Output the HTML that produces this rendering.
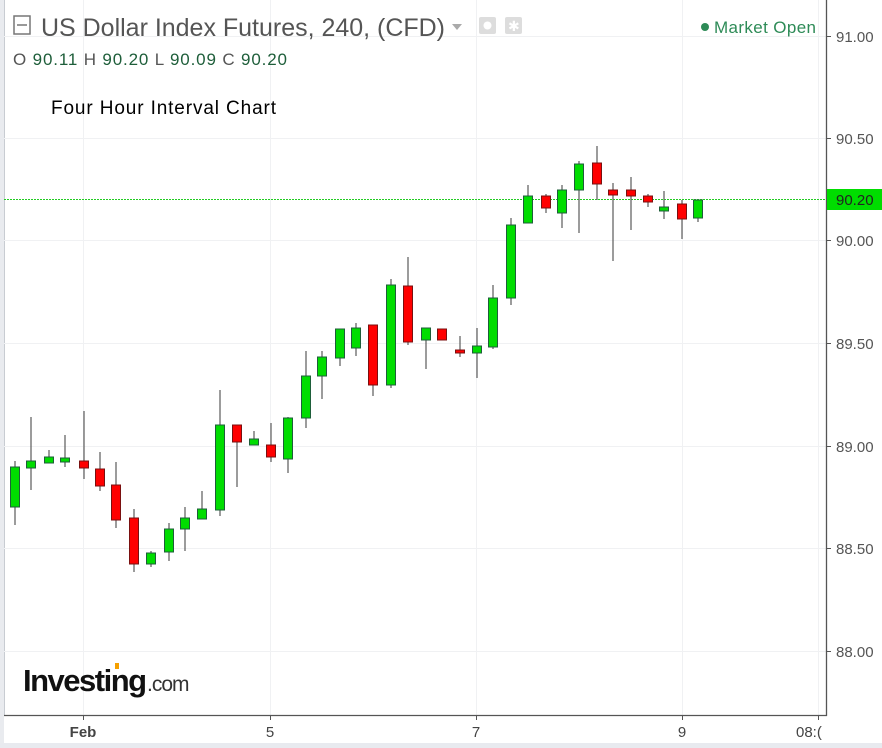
<!DOCTYPE html>
<html><head><meta charset="utf-8"><style>
html,body{margin:0;padding:0;background:#fff;width:882px;height:748px;overflow:hidden;font-family:"Liberation Sans",sans-serif}
</style></head><body>
<svg id="s" width="882" height="748" xmlns="http://www.w3.org/2000/svg" style="position:absolute;left:0;top:0">
<rect x="0" y="0" width="882" height="748" fill="#fff"/>
<rect x="0" y="743" width="882" height="5" fill="#e8eaef"/>
<rect x="0" y="0" width="4" height="743" fill="#e9ebef"/>
<line x1="4.5" y1="0" x2="4.5" y2="715" stroke="#c8ccd2"/>
<g id="grid" stroke="#f0f1f3" stroke-width="1"></g>
<line x1="4" y1="199.5" x2="826" y2="199.5" stroke="#22cc22" stroke-dasharray="2,1" stroke-width="1"/>
<g id="c"></g>
<line x1="826.5" y1="0" x2="826.5" y2="716" stroke="#555" stroke-width="1.3"/>
<line x1="4" y1="715.5" x2="827" y2="715.5" stroke="#555" stroke-width="1.3"/>
<g id="ax" font-size="15" fill="#555" font-family="Liberation Sans,sans-serif"></g>
<rect x="827" y="189" width="55" height="21" fill="#00dd00"/>
<text x="836" y="205" font-size="15" fill="#222">90.20</text>
<g font-size="15" fill="#444" text-anchor="middle">
<text x="83" y="737" font-weight="bold">Feb</text>
<text x="270" y="737">5</text>
<text x="476" y="737">7</text>
<text x="682" y="737">9</text>
</g>
<text x="796" y="737" font-size="15" fill="#444">08:(</text>
<rect x="14" y="16" width="16" height="18" fill="none" stroke="#777" stroke-width="1.5"/>
<line x1="17" y1="25" x2="27" y2="25" stroke="#777" stroke-width="1.5"/>
<text x="41" y="36" font-size="25" fill="#555" textLength="404" lengthAdjust="spacingAndGlyphs">US Dollar Index Futures, 240, (CFD)</text>
<path d="M452 24 L462 24 L457 30 Z" fill="#aaa"/>
<rect x="479" y="17" width="17" height="17" rx="2" fill="#ddd"/>
<circle cx="487.5" cy="25.5" r="4" fill="#fff"/>
<rect x="505" y="17" width="17" height="17" rx="2" fill="#ddd"/>
<text x="508" y="31" font-size="14" fill="#fff">✱</text>
<text x="13" y="65" font-size="17" fill="#1e5e3a" textLength="274" lengthAdjust="spacing"><tspan fill="#555">O</tspan> 90.11 <tspan fill="#555">H</tspan> 90.20 <tspan fill="#555">L</tspan> 90.09 <tspan fill="#555">C</tspan> 90.20</text>
<circle cx="705" cy="27" r="4" fill="#2e8b57"/>
<text x="714" y="33" font-size="17" fill="#2e8b57" textLength="102">Market Open</text>
<text x="51" y="114" font-size="19" fill="#000" textLength="225">Four Hour Interval Chart</text>
<text x="23" y="691" font-size="31" font-weight="bold" fill="#111" letter-spacing="-1.5">Investing</text>
<text x="147" y="691" font-size="21" fill="#333" letter-spacing="-1">.com</text>
<rect x="115" y="663" width="4" height="6" fill="#f5a000"/>
</svg>
<script>
var ns="http://www.w3.org/2000/svg";
function el(p,t,a){var e=document.createElementNS(ns,t);for(var k in a)e.setAttribute(k,a[k]);p.appendChild(e);return e;}
var g=document.getElementById('grid'),ax=document.getElementById('ax');
var prices=[["91.00",36],["90.50",138],["90.00",240],["89.50",343],["89.00",446],["88.50",548],["88.00",651]];
prices.forEach(function(p){el(g,'line',{x1:4,x2:826,y1:p[1]+.5,y2:p[1]+.5});
el(ax,'line',{x1:826,x2:831,y1:p[1]+.5,y2:p[1]+.5,stroke:'#555'});
var t=el(ax,'text',{x:836,y:p[1]+6});t.textContent=p[0];});
[83,270,476,682,818].forEach(function(x){el(g,'line',{x1:x+.5,x2:x+.5,y1:0,y2:715});el(ax,'line',{x1:x+.5,x2:x+.5,y1:715,y2:720,stroke:'#555'});});
var C=[[15,461,525,467,507,1],[31,417,490,461,468,1],[49,450,463,457,463,1],[65,435,467,458,462,1],[84,411,479,461,468,0],[100,452,491,469,486,0],[116,462,528,485,520,0],[134,509,572,518,564,0],[151,551,567,553,564,1],[169,523,561,529,552,1],[185,507,551,518,529,1],[202,491,519,509,519,1],[220,390,516,425,510,1],[237,425,487,425,442,0],[254,431,445,439,445,1],[271,423,462,445,457,0],[288,417,473,418,459,1],[306,351,428,376,418,1],[322,351,399,357,376,1],[340,329,366,329,358,1],[356,323,356,328,348,1],[373,325,396,325,385,0],[391,279,388,285,385,1],[408,257,345,286,342,0],[426,328,369,328,340,1],[442,329,340,329,340,0],[460,336,357,350,353,0],[477,328,378,346,353,1],[493,285,349,298,347,1],[511,218,305,225,298,1],[528,185,223,196,223,1],[546,194,213,196,208,0],[562,185,228,190,213,1],[579,161,233,164,190,1],[597,146,200,163,184,0],[613,183,261,190,195,0],[631,177,230,190,196,0],[648,194,207,196,202,0],[664,191,219,207,211,1],[682,200,239,204,219,0],[698,200,222,200,218,1]];
var cg=document.getElementById('c');
C.forEach(function(c){el(cg,'line',{x1:c[0],x2:c[0],y1:c[1],y2:c[2],stroke:'#666','stroke-width':1.3});
el(cg,'rect',{x:c[0]-4.5,y:c[3],width:9,height:Math.max(c[4]-c[3],3),fill:c[5]?'#00dd00':'#ff0000',stroke:c[5]?'#1e5e3a':'#7a1010','stroke-width':1});});
</script>
</body></html>
